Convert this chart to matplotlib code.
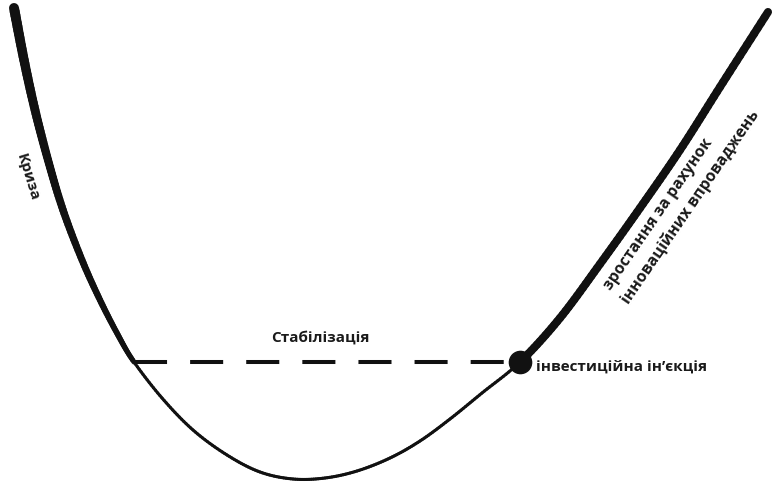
import numpy as np
import matplotlib
matplotlib.use("Agg")
import matplotlib.pyplot as plt
from matplotlib.collections import LineCollection

plt.rcParams['lines.scale_dashes'] = False

# Curve (x to the right, y downwards, in picture units)
curve_x = [14, 24, 35, 48, 63, 82, 100, 118, 134, 162, 193, 227, 260, 293, 325,
           357, 390, 420, 450, 482, 520, 560, 600, 640, 680, 720, 768]
curve_y = [8, 60, 110, 160, 210, 260, 300, 335, 362, 398, 430, 455, 472, 479, 478,
           471, 458, 441, 419, 393, 362, 318, 264, 208, 150, 87, 12]

stabilization_level = 362
injection_index = 20
left_thick_end = 8

labels = {
    "crisis": "Криза",
    "stab": "Стабілізація",
    "inject": "інвестиційна ін’єкція",
    "growth1": "зростання за рахунок",
    "growth2": "інноваційних впроваджень",
}

fig = plt.figure(figsize=(7.76, 4.82), dpi=100)
ax = fig.add_axes([0, 0, 1, 1])
ax.set_xlim(0, 776)
ax.set_ylim(482, 0)
ax.axis('off')

x = np.array(curve_x, float)
y = np.array(curve_y, float)
P = np.column_stack([x, y])

# smooth rendering of the polyline (Catmull-Rom), keeping the read points
def catmull(P, n=14):
    ext = np.vstack([2 * P[0] - P[1], P, 2 * P[-1] - P[-2]])
    out, seg_id = [], []
    for i in range(1, len(ext) - 2):
        p0, p1, p2, p3 = ext[i - 1], ext[i], ext[i + 1], ext[i + 2]
        for t in np.linspace(0, 1, n, endpoint=False):
            t2, t3 = t * t, t * t * t
            pt = 0.5 * ((2 * p1) + (-p0 + p2) * t + (2 * p0 - 5 * p1 + 4 * p2 - p3) * t2
                        + (-p0 + 3 * p1 - 3 * p2 + p3) * t3)
            out.append(pt)
            seg_id.append(i - 1 + t)
    out.append(P[-1]); seg_id.append(len(P) - 1)
    return np.array(out), np.array(seg_id)

D, sid = catmull(P)
segs = np.stack([D[:-1], D[1:]], axis=1)
mid = 0.5 * (sid[:-1] + sid[1:])
widths = np.where(mid < left_thick_end,
                  7.2 - 3.6 * np.clip(mid / left_thick_end, 0, 1),
                  np.where(mid < injection_index, 2.2, 5.8))
lc = LineCollection(segs, linewidths=widths, colors='#111111', capstyle='round', joinstyle='round')
ax.add_collection(lc)

# dashed stabilization line from left arm to injection point
x_left = np.interp(stabilization_level, y[:13], x[:13])
ax.plot([x_left, x[injection_index]], [stabilization_level, stabilization_level],
        color='#111111', lw=2.9, dashes=(23.8, 16.6), solid_capstyle='butt', dash_capstyle='butt')

ax.plot([x[injection_index]], [y[injection_index]], 'o', color='#111111', markersize=16)

font = dict(family=['Open Sans', 'DejaVu Sans'], fontweight='bold', color='#1a1a1a')

ax.text(27, 177, labels["crisis"], rotation=-73, ha='center', va='center', fontsize=11, **font)
ax.text(320, 338, labels["stab"], ha='center', va='center', fontsize=11, **font)
ax.text(536, 367, labels["inject"], ha='left', va='center', fontsize=11, **font)
ax.text(611, 291, labels["growth1"], rotation=55.5, rotation_mode='anchor',
        ha='left', va='baseline', fontsize=11.3, **font)
ax.text(629, 305, labels["growth2"], rotation=55.5, rotation_mode='anchor',
        ha='left', va='baseline', fontsize=11.3, **font)

fig.savefig('out.png', dpi=100)
